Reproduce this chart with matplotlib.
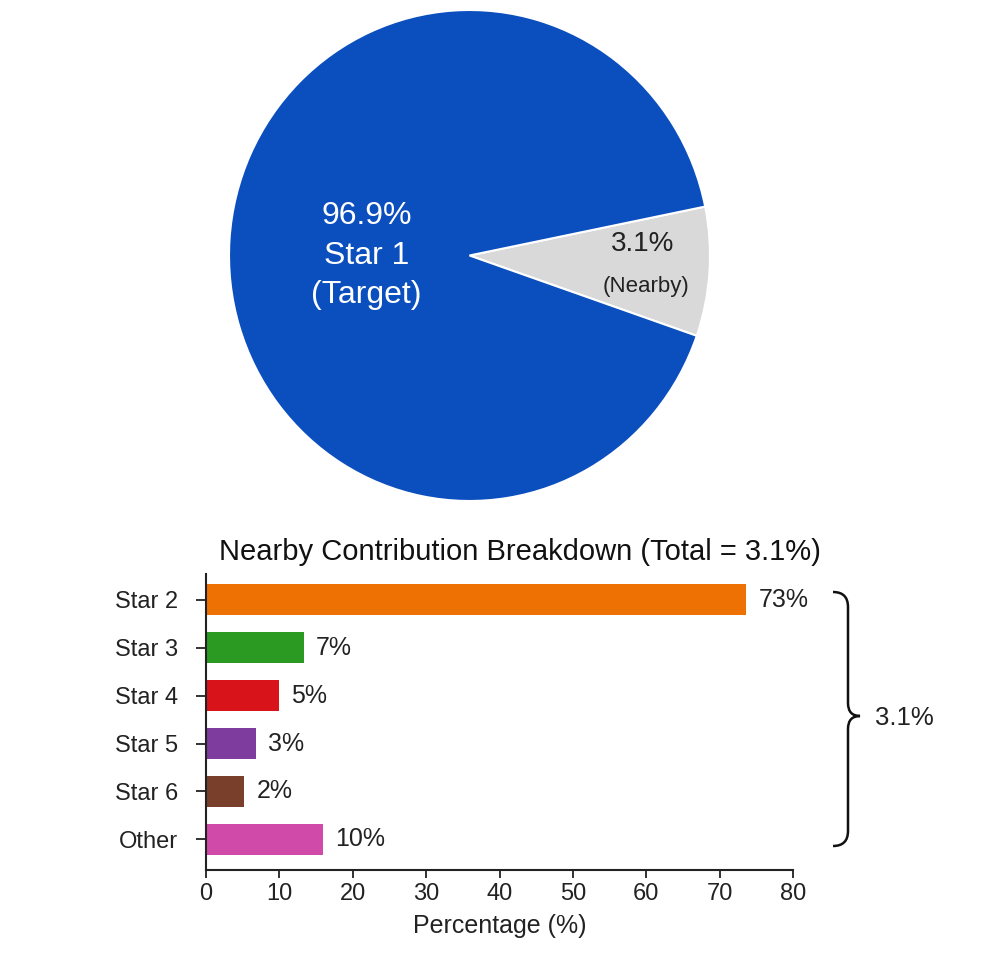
import matplotlib.pyplot as plt
from matplotlib.path import Path
from matplotlib.patches import PathPatch

plt.rcParams['font.family'] = ['Liberation Sans', 'DejaVu Sans']

# pie data (wedge sizes as drawn, labels as printed)
pie_sizes = [8.5, 91.5]
pie_colors = ['#D9D9D9', '#0B4FBF']
target_label = "96.9%\nStar 1\n(Target)"
nearby_pct = "3.1%"
nearby_name = "(Nearby)"

# bar data
stars = ["Star 2", "Star 3", "Star 4", "Star 5", "Star 6", "Other"]
bar_values = [73.6, 13.3, 9.9, 6.8, 5.2, 15.9]
bar_labels = ["73%", "7%", "5%", "3%", "2%", "10%"]
bar_colors = ['#EE7203', '#2A9A22', '#D8141A', '#7E3C9E', '#7A3F2B', '#D04AAA']

W, H = 989, 964
fig = plt.figure(figsize=(W / 100, H / 100), dpi=100)
fig.patch.set_facecolor('white')

# ---- pie ----
ax_pie = fig.add_axes([229 / W, 1 - 501 / H, 481 / W, 491 / H])
ax_pie.pie(pie_sizes, colors=pie_colors, startangle=-19.1, counterclock=True,
           wedgeprops=dict(edgecolor='white', linewidth=1.5), radius=1)
ax_pie.set_xlim(-1, 1)
ax_pie.set_ylim(-1, 1)
ax_pie.set_aspect('auto')
ax_pie.axis('off')
ax_pie.text(-0.428, 0.0, target_label, color='white', fontsize=23, ha='center',
            va='center', linespacing=1.4)
ax_pie.text(0.72, 0.045, nearby_pct, color='#222222', fontsize=20, ha='center', va='center')
ax_pie.text(0.732, -0.128, nearby_name, color='#222222', fontsize=16, ha='center', va='center')

# ---- bars ----
ax = fig.add_axes([206 / W, 1 - 870 / H, 587 / W, 296 / H])
ypos = list(range(len(stars)))
ax.barh(ypos, bar_values, height=0.65, color=bar_colors)
ax.set_xlim(0, 80)
ax.set_ylim(5.64, -0.54)
ax.set_yticks(ypos)
ax.set_yticklabels(stars, fontsize=17)
ax.set_xticks(range(0, 81, 10))
ax.tick_params(axis='x', labelsize=17, length=6, width=1.3, colors='#222222')
ax.tick_params(axis='y', length=7, width=1.3, colors='#222222', pad=13)
for s in ['top', 'right']:
    ax.spines[s].set_visible(False)
for s in ['left', 'bottom']:
    ax.spines[s].set_linewidth(1.5)
    ax.spines[s].set_color('#222222')
ax.set_xlabel("Percentage (%)", fontsize=18, color='#222222', labelpad=6)
ax.set_title("Nearby Contribution Breakdown (Total = 3.1%)", fontsize=21,
             color='#111111', x=0.535, pad=10)

for y, v, lab in zip(ypos, bar_values, bar_labels):
    ax.annotate(lab, (v, y), xytext=(9, 0), textcoords='offset points',
                va='center', ha='left', fontsize=18, color='#222222')

# ---- curly brace ----
def fp(x, y):
    return (x / W, 1 - y / H)

verts = [fp(833, 592), fp(848, 592), fp(848, 607),
         fp(848, 703),
         fp(848, 716), fp(860, 716),
         fp(848, 716), fp(848, 729),
         fp(848, 831),
         fp(848, 846), fp(833, 846)]
codes = [Path.MOVETO, Path.CURVE3, Path.CURVE3,
         Path.LINETO,
         Path.CURVE3, Path.CURVE3,
         Path.CURVE3, Path.CURVE3,
         Path.LINETO,
         Path.CURVE3, Path.CURVE3]
brace = PathPatch(Path(verts, codes), transform=fig.transFigure,
                  fill=False, edgecolor='#111111', linewidth=1.8)
fig.patches.append(brace)
fig.text(875 / W, 1 - 718 / H, nearby_pct, fontsize=18.5, va='center', ha='left',
         color='#222222')

fig.savefig('out.png', dpi=100)
